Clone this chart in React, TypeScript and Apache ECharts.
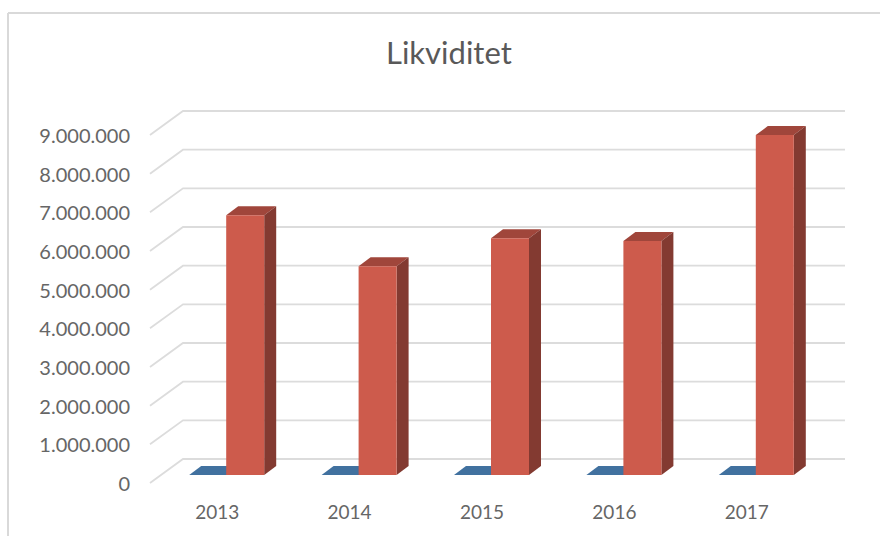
import React, { useEffect, useRef } from "react";
import * as echarts from "echarts";

const title = "Likviditet";
const years = ["2013", "2014", "2015", "2016", "2017"];
const blueValues = [0, 0, 0, 0, 0];
const redValues = [6720000, 5400000, 6120000, 6050000, 8790000];
const yTicks = [0, 1000000, 2000000, 3000000, 4000000, 5000000, 6000000, 7000000, 8000000, 9000000];

const fontFamily = "Lato, 'Open Sans', sans-serif";
const BAR_W = 38;
const DX = 12;
const DY = 9;
const FLOOR = 8;

const fmt = (v: number) => String(v).replace(/\B(?=(\d{3})+(?!\d))/g, ".");

function barSeries(name: string, values: number[], offset: number, front: string, side: string, top: string) {
  return {
    type: "custom",
    name,
    z: 5,
    clip: false,
    encode: { x: 0, y: 1 },
    data: values.map((v, i) => [i, v]),
    renderItem: (_: any, api: any) => {
      const p = api.coord([api.value(0), api.value(1)]);
      const zero = api.coord([api.value(0), 0]);
      const x = p[0] + offset;
      const yT = p[1] - FLOOR;
      const yB = zero[1] - FLOOR;
      const children: any[] = [
        { type: "polygon", shape: { points: [[x, yT], [x + DX, yT - DY], [x + BAR_W + DX, yT - DY], [x + BAR_W, yT]] }, style: { fill: top } },
      ];
      if (yB - yT > 0.5) {
        children.push(
          { type: "polygon", shape: { points: [[x + BAR_W, yT], [x + BAR_W + DX, yT - DY], [x + BAR_W + DX, yB - DY], [x + BAR_W, yB]] }, style: { fill: side } },
          { type: "rect", shape: { x, y: yT, width: BAR_W, height: yB - yT }, style: { fill: front } }
        );
      }
      return { type: "group", children };
    },
  };
}

export default function App() {
  const ref = useRef<HTMLDivElement>(null);
  useEffect(() => {
    const chart = echarts.init(ref.current!, undefined, { renderer: "svg" });
    chart.setOption({
      animation: false,
      backgroundColor: "#ffffff",
      title: {
        text: title,
        left: 381,
        top: 31,
        textStyle: { fontFamily, fontSize: 31, fontWeight: "normal", color: "#595959" },
      },
      grid: { left: 151, right: 67, top: 135, bottom: 53 },
      xAxis: {
        type: "category",
        data: years,
        axisLine: { show: false },
        axisTick: { show: false },
        splitLine: { show: false },
        axisLabel: { fontFamily, fontSize: 19, color: "#666666", margin: 19 },
      },
      yAxis: {
        type: "value",
        min: 0,
        max: 9000000,
        interval: 1000000,
        axisLine: { show: false },
        axisTick: { show: false },
        splitLine: { show: false },
        axisLabel: { fontFamily, fontSize: 20, color: "#666666", margin: 21, padding: [3, 0, 0, 0], formatter: (v: number) => fmt(v) },
      },
      graphic: [
        { type: "line", silent: true, shape: { x1: 8, y1: 13, x2: 880, y2: 13 }, style: { stroke: "#d9d9d9", lineWidth: 2 } },
        { type: "line", silent: true, shape: { x1: 8, y1: 13, x2: 8, y2: 536 }, style: { stroke: "#d9d9d9", lineWidth: 2 } },
      ],
      series: [
        {
          type: "custom",
          name: "grid",
          z: 1,
          clip: false,
          encode: { x: 0, y: 1 },
          data: yTicks.map((v) => [0, v]),
          renderItem: (params: any, api: any) => {
            const y = api.coord([0, api.value(1)])[1];
            const left = params.coordSys.x - 1;
            const right = params.coordSys.x + params.coordSys.width + 32;
            return {
              type: "polyline",
              shape: { points: [[left, y], [left + 33, y - 24], [right, y - 24]] },
              style: { stroke: "#dcdcdc", lineWidth: 1.8, fill: "none" },
            };
          },
        },
        barSeries("Serie 1", blueValues, -28, "#41719f", "#2f5376", "#41719f"),
        barSeries("Serie 2", redValues, 9, "#cd5b4c", "#833a31", "#a0463b"),
      ],
    });
    return () => chart.dispose();
  }, []);
  return <div ref={ref} style={{ position: "absolute", left: 0, top: 0, width: 880, height: 536 }} />;
}
